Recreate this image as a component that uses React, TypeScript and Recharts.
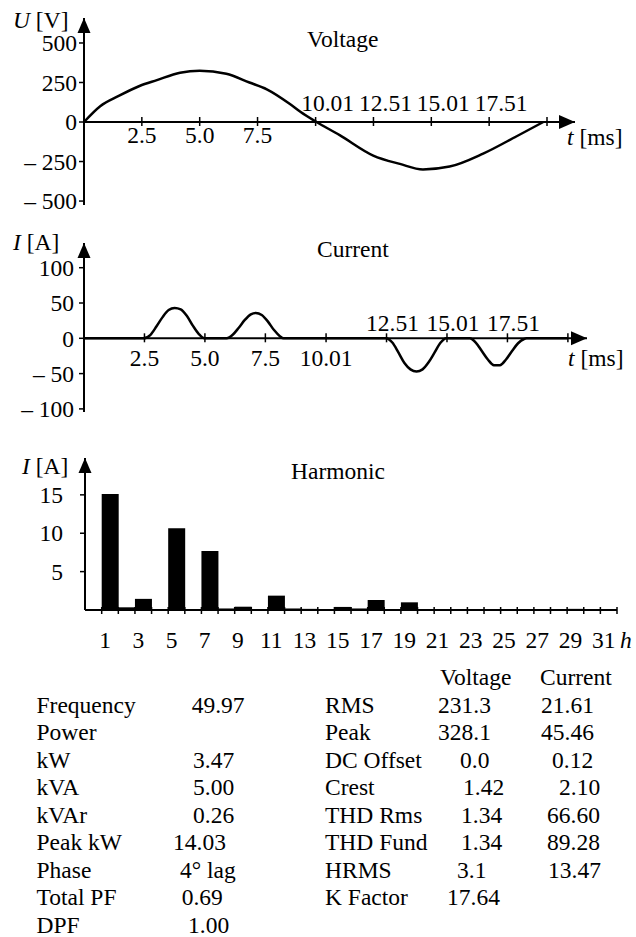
import React from 'react';
import { LineChart, Line, XAxis, YAxis, ReferenceLine, ReferenceDot, BarChart, Bar } from 'recharts';

const FONT = '"Liberation Serif", "Times New Roman", Times, serif';
const FS = 23.5;

// ---------- Data ----------
const voltageTime = [0, 0.7, 1.5, 2.4, 3.15, 4.15, 5.0, 6.15, 7.15, 7.9, 8.9, 9.35, 10.05, 11.05, 12.5, 13.65, 14.65, 15.8, 17.25, 18.7, 19.85];
const voltageValues = [0, 100, 165, 228, 265, 312, 325, 305, 250, 207, 114, 65, 0, -83, -212, -265, -300, -282, -200, -90, 0];

const currentTime = [0, 2.45, 2.75, 3.0, 3.25, 3.5, 3.75, 4.0, 4.25, 4.5, 4.75, 4.98, 5.9, 6.15, 6.4, 6.65, 6.9, 7.1, 7.35, 7.6, 7.85, 8.1, 8.25, 12.48, 12.75, 13.0, 13.25, 13.5, 13.75, 14.0, 14.25, 14.5, 14.75, 14.98, 15.95, 16.2, 16.45, 16.7, 16.95, 17.2, 17.45, 17.7, 17.95, 18.2, 18.3, 20.0];
const currentValues = [0, 0, 5, 17, 30, 40, 43, 41, 32, 18, 6, 0, 0, 5, 15, 26, 34, 36, 33, 24, 12, 3, 0, 0, -6, -20, -35, -44, -47, -44, -34, -20, -6, 0, 0, -6, -18, -30, -38, -38, -30, -18, -7, -1, 0, 0];

const timeTicks = [2.5, 5.0, 7.5, 10.01, 12.51, 15.01, 17.51, 20.01];
const timeTickLabels = ['2.5', '5.0', '7.5', '10.01', '12.51', '15.01', '17.51', ''];
const voltageTicks = [-500, -250, 0, 250, 500];
const currentTicks = [-100, -50, 0, 50, 100];

const harmonicOrders = [1, 2, 3, 4, 5, 6, 7, 8, 9, 10, 11, 12, 13, 14, 15, 16, 17, 18, 19, 20, 21, 22, 23, 24, 25, 26, 27, 28, 29, 30, 31];
const harmonicAmps = [15.1, 0.35, 1.45, 0.05, 10.65, 0.1, 7.7, 0.2, 0.43, 0.05, 1.87, 0.2, 0.15, 0.1, 0.4, 0.2, 1.3, 0.05, 1.0, 0, 0, 0, 0.1, 0, 0.1, 0, 0, 0, 0.15, 0, 0];
const harmonicTicks = [5, 10, 15];

const leftLabels = ['Frequency', 'Power', 'kW', 'kVA', 'kVAr', 'Peak kW', 'Phase', 'Total PF', 'DPF'];
const leftValues = ['49.97', '', '3.47', '5.00', '0.26', '14.03', '4° lag', '0.69', '1.00'];
const rightLabels = ['RMS', 'Peak', 'DC Offset', 'Crest', 'THD Rms', 'THD Fund', 'HRMS', 'K Factor'];
const voltageStats = ['231.3', '328.1', '0.0', '1.42', '1.34', '1.34', '3.1', '17.64'];
const currentStats = ['21.61', '45.46', '0.12', '2.10', '66.60', '89.28', '13.47', ''];
const statHeaders = ['Voltage', 'Current'];

// ---------- Layout (not data) ----------
const leftValueX = [191.7, 0, 193, 193, 193, 173, 180, 181.7, 188];
const voltStatX = [438, 438, 460, 463, 461, 461, 457, 447];
const currStatX = [541, 541, 552, 559, 547, 547, 548, 0];
const ROW0 = 712.7;
const ROWH = 27.5;

const voltageData = voltageTime.map((t, i) => ({ t, u: voltageValues[i] }));
const currentData = currentTime.map((t, i) => ({ t, i: currentValues[i] }));
const harmonicData = harmonicOrders.map((h, i) => ({ h, a: harmonicAmps[i] }));

const V_DOMAIN: [number, number] = [-525, 658];
const V_XMAX = 21.22;
const C_DOMAIN: [number, number] = [-104.4, 135];
const C_XMAX = 20.8;
const H_DOMAIN: [number, number] = [0, 19.8];

const H_LEFT = 85;
const H_PAD = 16.7;
const H_RIGHT_MARGIN = 19;
const BW = (636 - H_LEFT - H_RIGHT_MARGIN - H_PAD) / harmonicOrders.length;

const fmtSigned = (v: number) => (v < 0 ? `– ${Math.abs(v)}` : `${v}`);

const textStyle = { fontFamily: FONT, fontSize: FS, fill: '#000' } as const;

function makeYTick(top: number, gap: number, fmt: (v: number) => string) {
  return (props: any) => {
    const { x, y, payload } = props;
    const v = payload.value;
    if (v === top) {
      return <polygon points={`${x},${y} ${x - 6.5},${y + 15} ${x + 6.5},${y + 15}`} fill="#000" />;
    }
    return (
      <g>
        <line x1={x - 5} x2={x} y1={y} y2={y} stroke="#000" strokeWidth={1.5} />
        <text x={x - gap} y={y} dy="0.35em" textAnchor="end" {...textStyle}>{fmt(v)}</text>
      </g>
    );
  };
}

function timeTickShape(label: string, above: boolean, belowBase: number, aboveBase: number, aboveDx: number) {
  return (p: any) => (
    <g>
      <line x1={p.cx} x2={p.cx} y1={p.cy - 5} y2={p.cy + 4} stroke="#000" strokeWidth={1.5} />
      {label ? (
        <text x={p.cx + (above ? aboveDx : 0)} y={above ? p.cy - aboveBase : p.cy + belowBase} textAnchor="middle" {...textStyle}>
          {label}
        </text>
      ) : null}
    </g>
  );
}

const rightArrow = (p: any) => (
  <polygon points={`${p.cx},${p.cy} ${p.cx - 16},${p.cy - 7} ${p.cx - 16},${p.cy + 7}`} fill="#000" />
);

const HarmonicTick = (props: any) => {
  const { x, y, payload, index } = props;
  const h = payload.value;
  const last = index === harmonicOrders.length - 1;
  return (
    <g>
      <line x1={x - BW / 2} x2={x - BW / 2} y1={y - 3} y2={y + 4} stroke="#000" strokeWidth={1.5} />
      {last ? <line x1={x + BW / 2} x2={x + BW / 2} y1={y - 3} y2={y + 4} stroke="#000" strokeWidth={1.5} /> : null}
      {h % 2 === 1 ? (
        <text x={x - 5} y={y + 38} textAnchor="middle" {...textStyle}>{h}</text>
      ) : null}
    </g>
  );
};

export default function App() {
  return (
    <div style={{ position: 'absolute', left: 0, top: 0, width: 636, height: 937, background: '#fff', overflow: 'hidden' }}>
      {/* Voltage */}
      <div style={{ position: 'absolute', left: 0, top: 0 }}>
        <LineChart width={636} height={220} data={voltageData} margin={{ top: 18, right: 61, bottom: 15, left: 0 }}>
          <XAxis type="number" dataKey="t" domain={[0, V_XMAX]} hide />
          <YAxis
            type="number"
            domain={V_DOMAIN}
            ticks={[...voltageTicks, V_DOMAIN[1]]}
            interval={0}
            width={84}
            tickSize={0}
            tickMargin={0}
            tickLine={false}
            axisLine={{ stroke: '#000', strokeWidth: 2 }}
            tick={makeYTick(V_DOMAIN[1], 7, fmtSigned)}
          />
          <ReferenceLine y={0} stroke="#000" strokeWidth={2} />
          {timeTicks.map((t, k) => (
            <ReferenceDot key={t} x={t} y={0} r={1} ifOverflow="visible" shape={timeTickShape(timeTickLabels[k], t >= 10, 21, 11, 12)} />
          ))}
          <ReferenceDot x={V_XMAX} y={0} r={1} ifOverflow="visible" shape={rightArrow} />
          <Line type="monotone" dataKey="u" stroke="#000" strokeWidth={2.5} dot={false} isAnimationActive={false} />
        </LineChart>
      </div>

      {/* Current */}
      <div style={{ position: 'absolute', left: 0, top: 225 }}>
        <LineChart width={636} height={205} data={currentData} margin={{ top: 18, right: 49, bottom: 18, left: 0 }}>
          <XAxis type="number" dataKey="t" domain={[0, C_XMAX]} hide />
          <YAxis
            type="number"
            domain={C_DOMAIN}
            ticks={[...currentTicks, C_DOMAIN[1]]}
            interval={0}
            width={84}
            tickSize={0}
            tickMargin={0}
            tickLine={false}
            axisLine={{ stroke: '#000', strokeWidth: 2 }}
            tick={makeYTick(C_DOMAIN[1], 10, fmtSigned)}
          />
          <ReferenceLine y={0} stroke="#000" strokeWidth={2} />
          {timeTicks.map((t, k) => (
            <ReferenceDot key={t} x={t} y={0} r={1} ifOverflow="visible" shape={timeTickShape(timeTickLabels[k], t >= 12.5, 28, 7, 6)} />
          ))}
          <ReferenceDot x={C_XMAX} y={0} r={1} ifOverflow="visible" shape={rightArrow} />
          <Line type="monotone" dataKey="i" stroke="#000" strokeWidth={2.5} dot={false} isAnimationActive={false} />
        </LineChart>
      </div>

      {/* Harmonic */}
      <div style={{ position: 'absolute', left: 0, top: 440 }}>
        <BarChart width={636} height={220} data={harmonicData} margin={{ top: 18, right: H_RIGHT_MARGIN, bottom: 0, left: 0 }} barCategoryGap={0} barGap={0}>
          <XAxis
            dataKey="h"
            height={50}
            padding={{ left: H_PAD, right: 0 }}
            interval={0}
            tickSize={0}
            tickMargin={0}
            tickLine={false}
            axisLine={{ stroke: '#000', strokeWidth: 2 }}
            tick={HarmonicTick}
          />
          <YAxis
            type="number"
            domain={H_DOMAIN}
            ticks={[...harmonicTicks, H_DOMAIN[1]]}
            interval={0}
            width={H_LEFT}
            tickSize={0}
            tickMargin={0}
            tickLine={false}
            axisLine={{ stroke: '#000', strokeWidth: 2 }}
            tick={makeYTick(H_DOMAIN[1], 22, (v) => `${v}`)}
          />
          <Bar dataKey="a" fill="#000" isAnimationActive={false} />
        </BarChart>
      </div>

      {/* Text overlay */}
      <svg width={636} height={937} style={{ position: 'absolute', left: 0, top: 0, pointerEvents: 'none' }}>
        <text x={13} y={28} {...textStyle}><tspan fontStyle="italic">U</tspan> [V]</text>
        <text x={307} y={46.5} {...textStyle}>Voltage</text>
        <text x={567} y={144.5} {...textStyle}><tspan fontStyle="italic">t</tspan> [ms]</text>

        <text x={13} y={250} {...textStyle}><tspan fontStyle="italic">I</tspan> [A]</text>
        <text x={317} y={257} {...textStyle}>Current</text>
        <text x={568} y={366} {...textStyle}><tspan fontStyle="italic">t</tspan> [ms]</text>

        <text x={22} y={474} {...textStyle}><tspan fontStyle="italic">I</tspan> [A]</text>
        <text x={291} y={478.5} {...textStyle}>Harmonic</text>
        <text x={620} y={648} {...textStyle} fontStyle="italic">h</text>

        {leftLabels.map((l, k) => (
          <text key={l} x={36.5} y={ROW0 + ROWH * k} {...textStyle}>{l}</text>
        ))}
        {leftValues.map((v, k) => (v ? (
          <text key={'lv' + k} x={leftValueX[k]} y={ROW0 + ROWH * k} {...textStyle}>{v}</text>
        ) : null))}

        <text x={440} y={685} {...textStyle}>{statHeaders[0]}</text>
        <text x={540} y={685} {...textStyle}>{statHeaders[1]}</text>
        {rightLabels.map((l, k) => (
          <text key={l} x={325} y={ROW0 + ROWH * k} {...textStyle}>{l}</text>
        ))}
        {voltageStats.map((v, k) => (v ? (
          <text key={'vs' + k} x={voltStatX[k]} y={ROW0 + ROWH * k} {...textStyle}>{v}</text>
        ) : null))}
        {currentStats.map((v, k) => (v ? (
          <text key={'cs' + k} x={currStatX[k]} y={ROW0 + ROWH * k} {...textStyle}>{v}</text>
        ) : null))}
      </svg>
    </div>
  );
}
